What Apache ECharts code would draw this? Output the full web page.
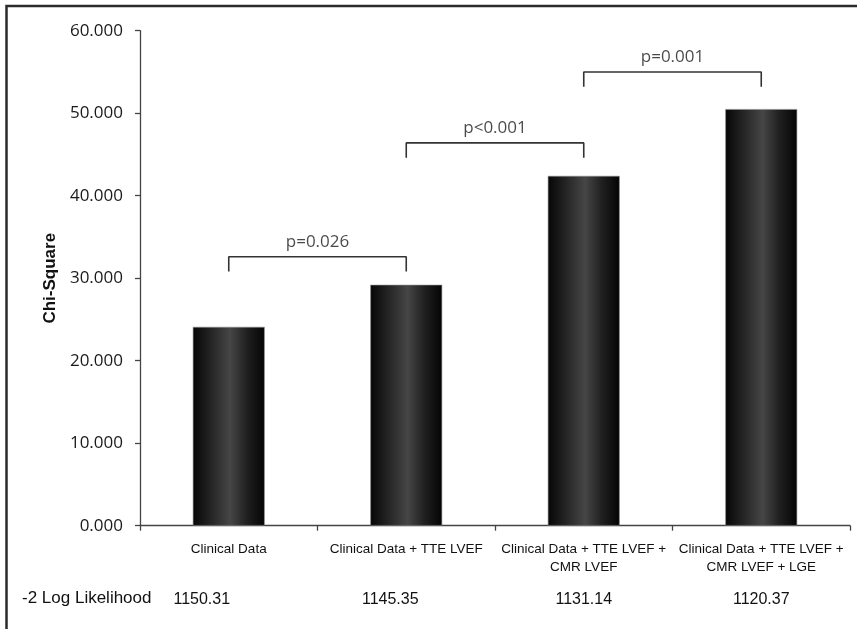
<!DOCTYPE html>
<html>
<head>
<meta charset="utf-8">
<script src="https://cdn.jsdelivr.net/npm/echarts@6/dist/echarts.min.js"></script>
<style>
  html, body { margin: 0; padding: 0; background: #fff; overflow: hidden; }
  #chart { width: 857px; height: 629px; }
</style>
</head>
<body>
<div id="chart"></div>
<script>
// Model categories (x axis)
const categories = [
  'Clinical Data',
  'Clinical Data + TTE LVEF',
  'Clinical Data + TTE LVEF +\nCMR LVEF',
  'Clinical Data + TTE LVEF +\nCMR LVEF + LGE'
];
// Chi-square of each model
const chiSquare = [24.1, 29.2, 42.4, 50.5];
// -2 log likelihood of each model
const logLikelihood = ['1150.31', '1145.35', '1131.14', '1120.37'];
// Pairwise comparisons between neighbouring models
const pValues = ['p=0.026', 'p<0.001', 'p=0.001'];
const bracketLevels = [32.6, 46.4, 55.0];
// Y axis ticks
const yMin = 0, yMax = 60, yStep = 10;

const chart = echarts.init(document.getElementById('chart'));

const barFill = new echarts.graphic.LinearGradient(0, 0, 1, 0, [
  { offset: 0, color: '#060606' },
  { offset: 0.28, color: '#282828' },
  { offset: 0.52, color: '#464646' },
  { offset: 0.75, color: '#202020' },
  { offset: 1, color: '#040404' }
]);

const bracketDrop = 1.8;
const bracketSeries = pValues.map((p, i) => ({
  type: 'line',
  xAxisIndex: 2,
  silent: true,
  symbol: 'none',
  lineStyle: { color: '#333', width: 1.6 },
  data: [
    [i, bracketLevels[i] - bracketDrop],
    [i, bracketLevels[i]],
    [i + 1, bracketLevels[i]],
    [i + 1, bracketLevels[i] - bracketDrop]
  ],
  z: 3
}));

const pLabelSeries = {
  type: 'scatter',
  xAxisIndex: 2,
  silent: true,
  symbolSize: 0,
  data: pValues.map((p, i) => ({ value: [i + 0.5, bracketLevels[i]], name: p })),
  label: {
    show: true,
    position: 'top',
    distance: 6,
    formatter: (d) => d.name,
    fontFamily: 'Open Sans',
    fontSize: 17,
    color: '#1a1a1a'
  }
};

// small horizontal nudges of the likelihood row
const llShift = [54, 32, 0, 0];
const llRich = {};
llShift.forEach((s, i) => {
  llRich['r' + i] = {
    fontFamily: 'Liberation Sans', fontSize: 16, color: '#111',
    padding: [0, s, 0, 0]
  };
});

chart.setOption({
  animation: false,
  backgroundColor: '#fff',
  grid: { left: 140, right: 7, top: 30.7, bottom: 103.3, containLabel: false },
  xAxis: [
    {
      type: 'category',
      data: categories,
      axisLine: { lineStyle: { color: '#444', width: 1.3 } },
      axisTick: { show: true, length: 5, lineStyle: { color: '#444', width: 1.3 } },
      axisLabel: {
        interval: 0,
        margin: 15,
        fontFamily: 'Liberation Sans',
        fontSize: 13.5,
        lineHeight: 18,
        color: '#111'
      }
    },
    {
      type: 'category',
      position: 'bottom',
      data: logLikelihood,
      axisLine: { show: false },
      axisTick: { show: false },
      axisLabel: {
        interval: 0,
        margin: 65,
        lineHeight: 18,
        formatter: (v, i) => '{r' + i + '|' + v + '}',
        rich: llRich
      }
    },
    {
      type: 'value',
      show: false,
      min: -0.5,
      max: 3.5
    }
  ],
  yAxis: {
    type: 'value',
    min: yMin,
    max: yMax,
    interval: yStep,
    name: 'Chi-Square',
    nameLocation: 'middle',
    nameGap: 74,
    nameRotate: 90,
    nameTextStyle: { fontFamily: 'Liberation Sans', fontWeight: 'bold', fontSize: 17, color: '#111' },
    splitLine: { show: false },
    axisLine: { show: true, onZero: false, lineStyle: { color: '#444', width: 1.3 } },
    axisTick: { show: true, length: 5, lineStyle: { color: '#444', width: 1.3 } },
    axisLabel: {
      margin: 17,
      fontFamily: 'Open Sans',
      fontSize: 17,
      color: '#1a1a1a',
      formatter: (v) => v.toFixed(3)
    }
  },
  series: [
    {
      type: 'bar',
      data: chiSquare,
      barWidth: '40.5%',
      itemStyle: { color: barFill, borderColor: '#8a8a8a', borderWidth: 0.6 },
      z: 2
    },
    ...bracketSeries,
    pLabelSeries
  ],
  graphic: [
    {
      type: 'rect',
      silent: true,
      shape: { x: 6.5, y: 6, width: 1000, height: 1000 },
      style: { fill: 'none', stroke: '#2b2b2b', lineWidth: 2.5 }
    },
    {
      type: 'text',
      left: 22,
      top: 590,
      style: { text: '-2 Log Likelihood', fontFamily: 'Liberation Sans', fontSize: 17, fill: '#111' }
    }
  ]
});
</script>
</body>
</html>
